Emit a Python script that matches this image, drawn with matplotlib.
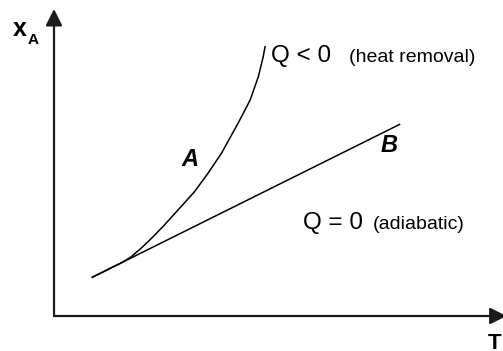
import matplotlib
matplotlib.use("Agg")
import matplotlib.pyplot as plt

plt.rcParams["font.family"] = ["Liberation Sans", "DejaVu Sans"]

# ---- data (T, x_A) in arbitrary units ----
curve_A_T = [0.85, 1.10, 1.30, 1.50, 1.72, 1.95, 2.20, 2.45, 2.76, 3.00, 3.13, 3.30,
             3.43, 3.60, 3.73, 3.90, 4.10, 4.25, 4.37, 4.47, 4.55, 4.62, 4.66, 4.70]
curve_A_x = [1.26, 1.44, 1.59, 1.73, 1.93, 2.22, 2.57, 2.95, 3.45, 3.84, 4.05, 4.39,
             4.65, 5.02, 5.30, 5.75, 6.28, 6.70, 7.04, 7.46, 7.79, 8.21, 8.45, 8.77]
line_B_T = [0.85, 7.71]
line_B_x = [1.26, 6.25]

fig = plt.figure(figsize=(5.03, 3.51), dpi=100)
ax = fig.add_axes([54 / 503, 35 / 351, 449 / 503, 307 / 351])
ax.set_xlim(0, 10)
ax.set_ylim(0, 10)
ax.axis("off")

ax.plot(curve_A_T, curve_A_x, color="black", lw=1.1, solid_joinstyle="round")
ax.plot(line_B_T, line_B_x, color="black", lw=1.1, solid_capstyle="butt")

# axes with arrowheads
arw = dict(arrowstyle="-|>,head_width=0.5,head_length=1.0", color="#1a1a1a",
           lw=1.6, mutation_scale=10, shrinkA=0, shrinkB=0)
ax.annotate("", xy=(0, 1), xytext=(0, 0), xycoords="axes fraction",
            arrowprops=arw, annotation_clip=False)
ax.annotate("", xy=(1.008, 0), xytext=(0, 0), xycoords="axes fraction",
            arrowprops=arw, annotation_clip=False)

# labels
ax.text(-0.91, 9.12, "x", fontsize=18, fontweight="bold", va="baseline", clip_on=False)
ax.text(-0.58, 8.86, "A", fontsize=11, fontweight="bold", va="baseline", clip_on=False)
ax.text(9.67, -1.07, "T", fontsize=16, fontweight="bold", va="baseline", clip_on=False)

ax.text(4.84, 8.27, "Q < 0", fontsize=17.5, va="baseline")
ax.text(6.57, 8.27, "(heat removal)", fontsize=14, va="baseline")
ax.text(5.55, 2.82, "Q = 0", fontsize=17.5, va="baseline")
ax.text(7.11, 2.82, "(adiabatic)", fontsize=14, va="baseline")

ax.text(2.85, 4.89, "A", fontsize=17, fontweight="bold", style="italic", va="baseline")
ax.text(7.28, 5.34, "B", fontsize=17, fontweight="bold", style="italic", va="baseline")

fig.savefig("out.png", dpi=100, facecolor="white")
